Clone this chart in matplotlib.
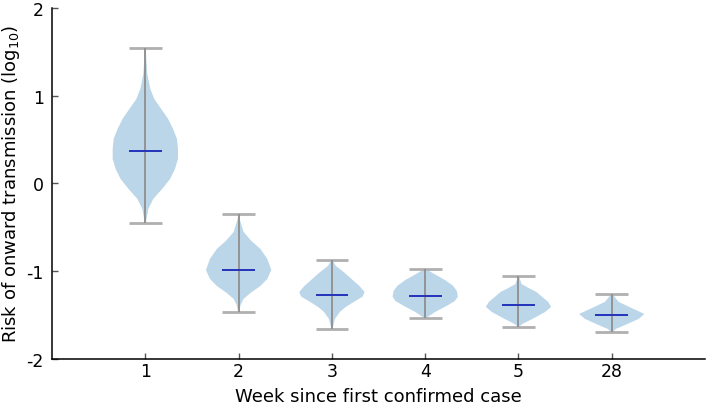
import numpy as np
import matplotlib
matplotlib.use("Agg")
import matplotlib.pyplot as plt

# weeks since first confirmed case
weeks = ['1', '2', '3', '4', '5', '28']

# summary stats per week (log10 risk)
medians = [0.370, -0.983, -1.271, -1.279, -1.381, -1.499]
mins = [-0.450, -1.464, -1.658, -1.536, -1.632, -1.696]
maxs = [1.544, -0.345, -0.875, -0.974, -1.051, -1.259]

# density profiles (value, relative width)
coords_1 = [1.544, 1.419, 1.248, 1.077, 0.963, 0.849, 0.735, 0.621, 0.507,
            0.393, 0.279, 0.165, 0.051, -0.063, -0.177, -0.291, -0.450]
dens_1 = [0.5, 1, 2, 5, 9, 16, 23, 28, 32, 33, 33, 30, 25, 17, 8, 3, 0.5]

coords_2 = [-0.345, -0.405, -0.553, -0.656, -0.746, -0.860, -0.986, -1.088,
            -1.168, -1.248, -1.316, -1.385, -1.464]
dens_2 = [0.5, 1, 5, 13, 22, 29, 33, 29, 22, 12, 5, 2, 0.5]

coords_3 = [-0.875, -0.94, -1.01, -1.09, -1.17, -1.237, -1.29, -1.35, -1.407,
            -1.464, -1.544, -1.658]
dens_3 = [0.5, 4, 12, 20, 28, 33, 31, 22, 14, 8, 3, 0.5]

coords_4 = [-0.974, -1.05, -1.10, -1.165, -1.225, -1.29, -1.339, -1.393,
            -1.464, -1.536]
dens_4 = [0.5, 12, 20, 28, 32, 33, 30, 22, 10, 0.5]

coords_5 = [-1.051, -1.145, -1.19, -1.236, -1.350, -1.407, -1.464, -1.544,
            -1.601, -1.632]
dens_5 = [0.5, 3, 10, 18, 30, 33, 27, 14, 4, 0.5]

coords_6 = [-1.259, -1.350, -1.43, -1.487, -1.544, -1.62, -1.658, -1.696]
dens_6 = [0.5, 7, 22, 33, 27, 12, 4, 0.5]

all_coords = [coords_1, coords_2, coords_3, coords_4, coords_5, coords_6]
all_dens = [dens_1, dens_2, dens_3, dens_4, dens_5, dens_6]


def main():
    plt.rcParams['axes.unicode_minus'] = False
    plt.rcParams['font.family'] = 'DejaVu Sans'

    fig = plt.figure(figsize=(7.06, 4.06), dpi=100)
    ax = fig.add_axes([0.0737, 0.1133, 0.925, 0.865])

    vpstats = []
    for i in range(len(weeks)):
        vpstats.append({'coords': np.array(all_coords[i]),
                        'vals': np.array(all_dens[i], dtype=float),
                        'mean': medians[i], 'median': medians[i],
                        'min': mins[i], 'max': maxs[i]})

    positions = np.arange(1, len(weeks) + 1)
    parts = ax.violin(vpstats, positions=positions, widths=0.7,
                      showmeans=False, showextrema=True, showmedians=True)

    for body in parts['bodies']:
        body.set_facecolor('#bbd6e8')
        body.set_edgecolor('none')
        body.set_alpha(1)
    parts['cbars'].set_color('#939393')
    parts['cbars'].set_linewidth(1.4)
    parts['cmins'].set_color('#b0b0b0')
    parts['cmins'].set_linewidth(2.0)
    parts['cmaxes'].set_color('#b0b0b0')
    parts['cmaxes'].set_linewidth(2.0)
    parts['cmedians'].set_color('#2233bb')
    parts['cmedians'].set_linewidth(1.4)

    ax.set_xlim(0, 7)
    ax.set_ylim(-2, 2)
    ax.set_xticks(positions)
    ax.set_xticklabels(weeks)
    ax.set_yticks([-2, -1, 0, 1, 2])
    ax.tick_params(direction='in', length=4, width=1, labelsize=12.5,
                   color='#555555')
    ax.tick_params(axis='x', pad=2)
    ax.tick_params(axis='y', pad=6)

    ax.spines['top'].set_visible(False)
    ax.spines['right'].set_visible(False)
    ax.spines['left'].set_linewidth(1.1)
    ax.spines['bottom'].set_linewidth(1.1)

    ax.set_xlabel('Week since first confirmed case', fontsize=13, labelpad=5)
    ax.set_ylabel('Risk of onward transmission (log$_{10}$)', fontsize=13,
                  labelpad=3)

    fig.savefig('out.png', dpi=100)


if __name__ == '__main__':
    main()
